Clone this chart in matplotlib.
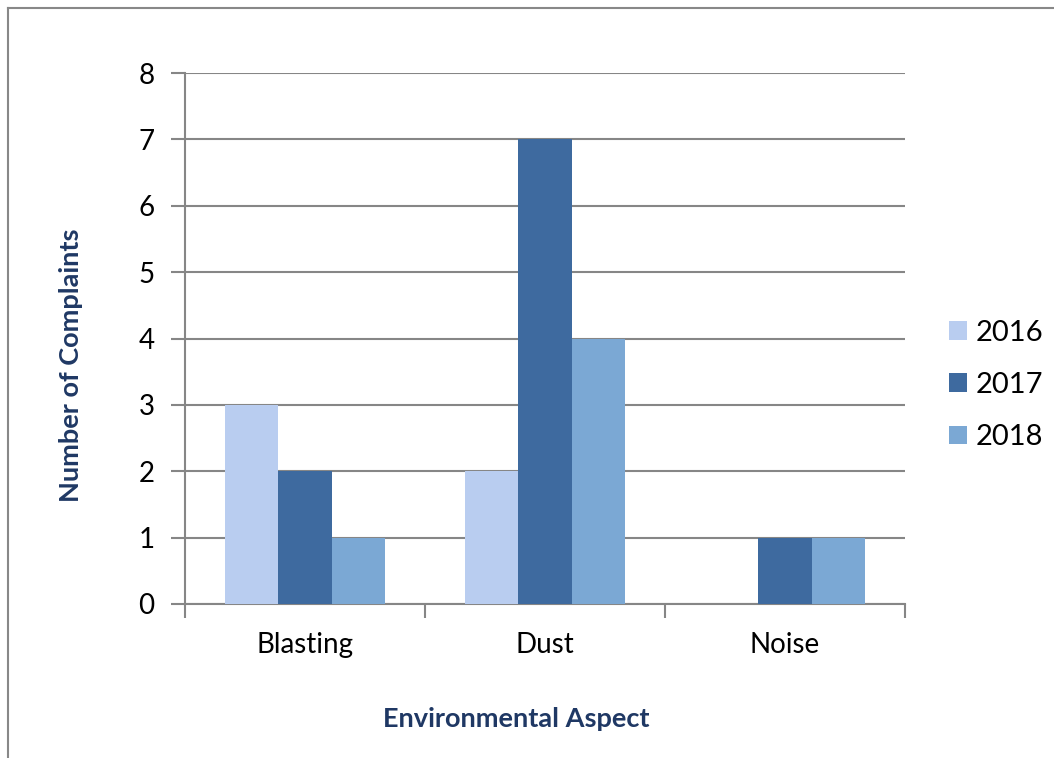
import matplotlib
matplotlib.use("Agg")
import matplotlib.pyplot as plt
import numpy as np
from matplotlib.lines import Line2D

categories = ["Blasting", "Dust", "Noise"]
years = ["2016", "2017", "2018"]
v2016 = [3, 2, 0]
v2017 = [2, 7, 1]
v2018 = [1, 4, 1]
series = [v2016, v2017, v2018]
colors = ["#B9CDF0", "#3E6A9F", "#7BA8D4"]
yticks = [0, 1, 2, 3, 4, 5, 6, 7, 8]

plt.rcParams['font.family'] = ['Lato', 'DejaVu Sans']
W, H = 1054, 758
fig = plt.figure(figsize=(W / 100, H / 100), dpi=100)
ax = fig.add_axes([185 / W, 154 / H, (905 - 185) / W, (604 - 73) / H])

x = np.arange(len(categories))
bw = 2 / 9
for i, (vals, c, lab) in enumerate(zip(series, colors, years)):
    ax.bar(x + (i - 1) * bw, vals, width=bw, color=c, label=lab, zorder=3)

ax.set_xlim(-0.5, len(categories) - 0.5)
ax.set_ylim(0, 8)
ax.set_yticks(yticks)
ax.set_yticklabels([str(t) for t in yticks], fontsize=20)
ax.yaxis.grid(True, color="#868686", linewidth=1.5, zorder=0)
ax.tick_params(axis='y', length=10, width=1.5, color="#868686", pad=12)

ax.set_xticks([-0.5, 0.5, 1.5, 2.5])
ax.set_xticklabels([])
ax.tick_params(axis='x', which='major', length=10, width=1.5, color="#868686")
ax.set_xticks(x, minor=True)
ax.set_xticklabels(categories, minor=True, fontsize=20)
ax.tick_params(axis='x', which='minor', length=0, pad=20)

for s in ['top', 'right']:
    ax.spines[s].set_visible(False)
for s in ['left', 'bottom']:
    ax.spines[s].set_color("#868686")
    ax.spines[s].set_linewidth(1.5)

ax.set_ylabel("Number of Complaints", fontsize=19.5, fontweight='bold', color="#1F3864", labelpad=0)
ax.yaxis.set_label_coords((83 - 185) / (905 - 185), (604 - 365) / (604 - 73))
ax.set_xlabel("Environmental Aspect", fontsize=19.5, fontweight='bold', color="#1F3864")
ax.xaxis.set_label_coords(0.46, (604 - 707) / (604 - 73))

leg = fig.legend(loc='center left', bbox_to_anchor=(949 / W, 1 - 385 / H), frameon=False,
                 fontsize=21, handlelength=0.6, handleheight=0.6, handletextpad=0.3,
                 labelspacing=0.9, borderpad=0, borderaxespad=0)

fig.add_artist(Line2D([8 / W, 8 / W], [0, 1 - 8 / H], transform=fig.transFigure, color="#888888", linewidth=1.5))
fig.add_artist(Line2D([8 / W, 1], [1 - 8 / H, 1 - 8 / H], transform=fig.transFigure, color="#888888", linewidth=1.5))

fig.savefig("out.png", dpi=100)
